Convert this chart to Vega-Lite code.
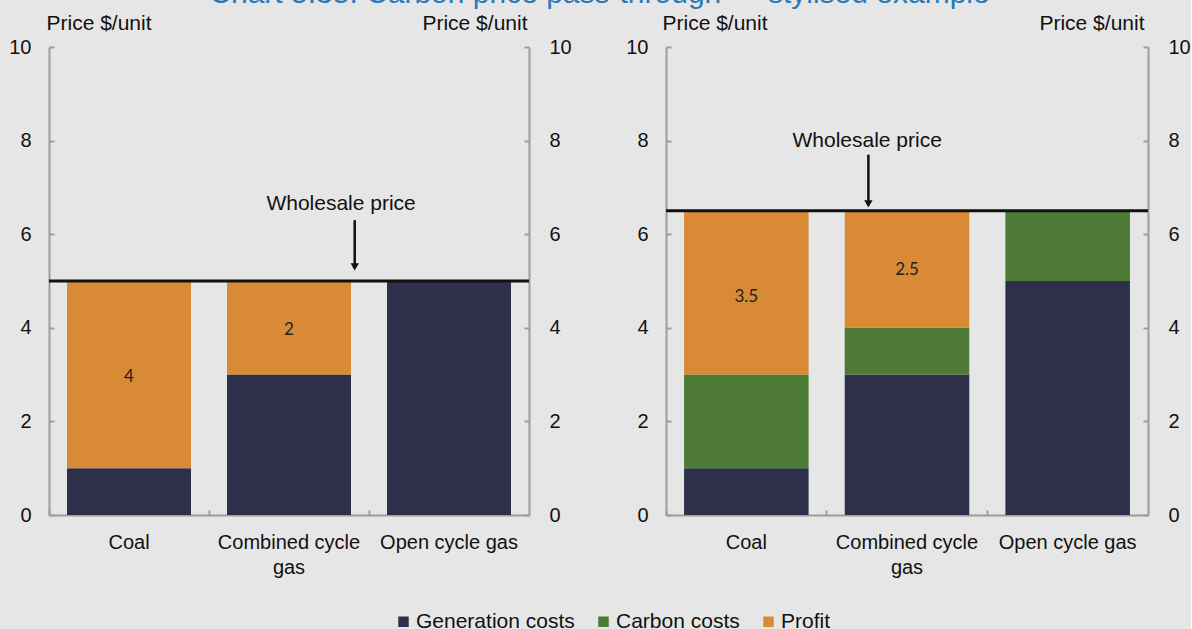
{
  "$schema": "https://vega.github.io/schema/vega-lite/v6.json",
  "background": "#e6e6e6",
  "padding": {"left": 8, "top": -21, "right": 0, "bottom": 0},
  "title": {
    "text": "Chart 5.35: Carbon price pass-through — stylised example",
    "font": "Liberation Sans",
    "fontSize": 30,
    "fontWeight": "normal",
    "color": "#2a7ab8",
    "anchor": "middle",
    "offset": 3
  },
  "datasets": {
    "bars": [
      {"panel": "left", "tech": "Coal", "component": "Generation costs", "value": 1, "stackOrder": 1},
      {"panel": "left", "tech": "Coal", "component": "Profit", "value": 4, "stackOrder": 3},
      {"panel": "left", "tech": "Combined cycle gas", "component": "Generation costs", "value": 3, "stackOrder": 1},
      {"panel": "left", "tech": "Combined cycle gas", "component": "Profit", "value": 2, "stackOrder": 3},
      {"panel": "left", "tech": "Open cycle gas", "component": "Generation costs", "value": 5, "stackOrder": 1},
      {"panel": "right", "tech": "Coal", "component": "Generation costs", "value": 1, "stackOrder": 1},
      {"panel": "right", "tech": "Coal", "component": "Carbon costs", "value": 2, "stackOrder": 2},
      {"panel": "right", "tech": "Coal", "component": "Profit", "value": 3.5, "stackOrder": 3},
      {"panel": "right", "tech": "Combined cycle gas", "component": "Generation costs", "value": 3, "stackOrder": 1},
      {"panel": "right", "tech": "Combined cycle gas", "component": "Carbon costs", "value": 1, "stackOrder": 2},
      {"panel": "right", "tech": "Combined cycle gas", "component": "Profit", "value": 2.5, "stackOrder": 3},
      {"panel": "right", "tech": "Open cycle gas", "component": "Generation costs", "value": 5, "stackOrder": 1},
      {"panel": "right", "tech": "Open cycle gas", "component": "Carbon costs", "value": 1.5, "stackOrder": 2}
    ],
    "labels": [
      {"panel": "left", "tech": "Coal", "text": "4", "y": 2.95},
      {"panel": "left", "tech": "Combined cycle gas", "text": "2", "y": 3.95},
      {"panel": "right", "tech": "Coal", "text": "3.5", "y": 4.66},
      {"panel": "right", "tech": "Combined cycle gas", "text": "2.5", "y": 5.24}
    ],
    "prices": [
      {"panel": "left", "price": 5},
      {"panel": "right", "price": 6.5}
    ],
    "notes": [
      {"panel": "left", "tech": "Combined cycle gas", "label": "Wholesale price", "textY": 6.65, "arrowTop": 6.3, "arrowTip": 5.3},
      {"panel": "right", "tech": "Combined cycle gas", "label": "Wholesale price", "textY": 8.0, "arrowTop": 7.7, "arrowTip": 6.65}
    ]
  },
  "spacing": 53,
  "hconcat": [
    {
      "width": 480,
      "height": 468,
      "layer": [
        {
          "data": {"name": "bars"},
          "transform": [{"filter": "datum.panel == 'left'"}],
          "mark": {"type": "bar"},
          "encoding": {
            "x": {"field": "tech", "type": "nominal", "sort": ["Coal", "Combined cycle gas", "Open cycle gas"],
              "scale": {"paddingInner": 0.225, "paddingOuter": 0.1125},
              "axis": {"title": null, "labelAngle": 0, "bandPosition": -0.145, "tickSize": -5, "labelPadding": 22, "labelLineHeight": 25,
                "labelExpr": "datum.label == 'Combined cycle gas' ? ['Combined cycle', 'gas'] : datum.label"}},
            "y": {"field": "value", "type": "quantitative", "stack": "zero",
              "scale": {"domain": [0, 10], "nice": false},
              "axis": {"orient": "left", "values": [0, 2, 4, 6, 8, 10], "title": "Price $/unit", "titleAngle": 0, "titleAlign": "left", "titleBaseline": "middle", "titleX": -3, "titleY": -24, "tickSize": -5, "labelPadding": 23}},
            "color": {"field": "component", "type": "nominal",
              "scale": {"domain": ["Generation costs", "Carbon costs", "Profit"], "range": ["#2d2f4b", "#4d7a35", "#d98a34"]},
              "legend": {"orient": "none", "direction": "horizontal", "legendX": 344, "legendY": 564, "title": null}},
            "order": {"field": "stackOrder", "type": "quantitative"}
          }
        },
        {
          "data": {"name": "prices"},
          "transform": [{"filter": "datum.panel == 'left'"}],
          "mark": {"type": "rule", "color": "#111111", "strokeWidth": 3},
          "encoding": {
            "y": {"field": "price", "type": "quantitative",
              "axis": {"orient": "right", "values": [0, 2, 4, 6, 8, 10], "title": "Price $/unit", "titleAngle": 0, "titleAlign": "right", "titleBaseline": "middle", "titleX": -2, "titleY": -24, "tickSize": -5, "labelPadding": 25}}
          }
        },
        {
          "data": {"name": "labels"},
          "transform": [{"filter": "datum.panel == 'left'"}],
          "mark": {"type": "text", "font": "Lato", "fontSize": 17, "color": "#222222"},
          "encoding": {
            "x": {"field": "tech", "type": "nominal", "sort": ["Coal", "Combined cycle gas", "Open cycle gas"]},
            "y": {"field": "y", "type": "quantitative", "axis": null},
            "text": {"field": "text"}
          }
        },
        {
          "data": {"name": "notes"},
          "transform": [{"filter": "datum.panel == 'left'"}],
          "mark": {"type": "text", "fontSize": 21, "color": "#111111"},
          "encoding": {
            "x": {"field": "tech", "type": "nominal", "sort": ["Coal", "Combined cycle gas", "Open cycle gas"], "bandPosition": 0.92},
            "y": {"field": "textY", "type": "quantitative", "axis": null},
            "text": {"field": "label"}
          }
        },
        {
          "data": {"name": "notes"},
          "transform": [{"filter": "datum.panel == 'left'"}],
          "mark": {"type": "rule", "color": "#111111", "strokeWidth": 2.5},
          "encoding": {
            "x": {"field": "tech", "type": "nominal", "sort": ["Coal", "Combined cycle gas", "Open cycle gas"], "bandPosition": 1.03},
            "y": {"field": "arrowTop", "type": "quantitative", "axis": null},
            "y2": {"field": "arrowTip"}
          }
        },
        {
          "data": {"name": "notes"},
          "transform": [{"filter": "datum.panel == 'left'"}],
          "mark": {"type": "point", "shape": "triangle-down", "filled": true, "color": "#111111", "size": 70, "opacity": 1},
          "encoding": {
            "x": {"field": "tech", "type": "nominal", "sort": ["Coal", "Combined cycle gas", "Open cycle gas"], "bandPosition": 1.03},
            "y": {"field": "arrowTip", "type": "quantitative", "axis": null}
          }
        }
      ],
      "resolve": {"axis": {"y": "independent"}}
    },
    {
      "width": 482,
      "height": 468,
      "layer": [
        {
          "data": {"name": "bars"},
          "transform": [{"filter": "datum.panel == 'right'"}],
          "mark": {"type": "bar"},
          "encoding": {
            "x": {"field": "tech", "type": "nominal", "sort": ["Coal", "Combined cycle gas", "Open cycle gas"],
              "scale": {"paddingInner": 0.225, "paddingOuter": 0.1125},
              "axis": {"title": null, "labelAngle": 0, "bandPosition": -0.145, "tickSize": -5, "labelPadding": 22, "labelLineHeight": 25,
                "labelExpr": "datum.label == 'Combined cycle gas' ? ['Combined cycle', 'gas'] : datum.label"}},
            "y": {"field": "value", "type": "quantitative", "stack": "zero",
              "scale": {"domain": [0, 10], "nice": false},
              "axis": {"orient": "left", "values": [0, 2, 4, 6, 8, 10], "title": "Price $/unit", "titleAngle": 0, "titleAlign": "left", "titleBaseline": "middle", "titleX": -4, "titleY": -24, "tickSize": -5, "labelPadding": 23}},
            "color": {"field": "component", "type": "nominal",
              "scale": {"domain": ["Generation costs", "Carbon costs", "Profit"], "range": ["#2d2f4b", "#4d7a35", "#d98a34"]},
              "legend": {"orient": "none", "direction": "horizontal", "legendX": 344, "legendY": 564, "title": null}},
            "order": {"field": "stackOrder", "type": "quantitative"}
          }
        },
        {
          "data": {"name": "prices"},
          "transform": [{"filter": "datum.panel == 'right'"}],
          "mark": {"type": "rule", "color": "#111111", "strokeWidth": 3},
          "encoding": {
            "y": {"field": "price", "type": "quantitative",
              "axis": {"orient": "right", "values": [0, 2, 4, 6, 8, 10], "title": "Price $/unit", "titleAngle": 0, "titleAlign": "right", "titleBaseline": "middle", "titleX": -4, "titleY": -24, "tickSize": -5, "labelPadding": 25}}
          }
        },
        {
          "data": {"name": "labels"},
          "transform": [{"filter": "datum.panel == 'right'"}],
          "mark": {"type": "text", "font": "Lato", "fontSize": 17, "color": "#222222"},
          "encoding": {
            "x": {"field": "tech", "type": "nominal", "sort": ["Coal", "Combined cycle gas", "Open cycle gas"]},
            "y": {"field": "y", "type": "quantitative", "axis": null},
            "text": {"field": "text"}
          }
        },
        {
          "data": {"name": "notes"},
          "transform": [{"filter": "datum.panel == 'right'"}],
          "mark": {"type": "text", "fontSize": 21, "color": "#111111"},
          "encoding": {
            "x": {"field": "tech", "type": "nominal", "sort": ["Coal", "Combined cycle gas", "Open cycle gas"], "bandPosition": 0.18},
            "y": {"field": "textY", "type": "quantitative", "axis": null},
            "text": {"field": "label"}
          }
        },
        {
          "data": {"name": "notes"},
          "transform": [{"filter": "datum.panel == 'right'"}],
          "mark": {"type": "rule", "color": "#111111", "strokeWidth": 2.5},
          "encoding": {
            "x": {"field": "tech", "type": "nominal", "sort": ["Coal", "Combined cycle gas", "Open cycle gas"], "bandPosition": 0.19},
            "y": {"field": "arrowTop", "type": "quantitative", "axis": null},
            "y2": {"field": "arrowTip"}
          }
        },
        {
          "data": {"name": "notes"},
          "transform": [{"filter": "datum.panel == 'right'"}],
          "mark": {"type": "point", "shape": "triangle-down", "filled": true, "color": "#111111", "size": 70, "opacity": 1},
          "encoding": {
            "x": {"field": "tech", "type": "nominal", "sort": ["Coal", "Combined cycle gas", "Open cycle gas"], "bandPosition": 0.19},
            "y": {"field": "arrowTip", "type": "quantitative", "axis": null}
          }
        }
      ],
      "resolve": {"axis": {"y": "independent"}}
    }
  ],
  "config": {
    "font": "Liberation Sans",
    "view": {"stroke": null},
    "axis": {
      "labelFont": "Liberation Sans",
      "labelFontSize": 20,
      "labelColor": "#111111",
      "titleFont": "Liberation Sans",
      "titleFontSize": 21,
      "titleFontWeight": "normal",
      "titleColor": "#111111",
      "domainColor": "#a39a93",
      "domainWidth": 2,
      "tickColor": "#a39a93",
      "tickWidth": 2,
      "grid": false
    },
    "legend": {
      "labelFont": "Liberation Sans",
      "labelFontSize": 21,
      "labelColor": "#111111",
      "symbolType": "square",
      "symbolSize": 110,
      "symbolStrokeWidth": 0,
      "columnPadding": 18,
      "labelOffset": 2
    },
    "text": {"font": "Liberation Sans"}
  }
}
